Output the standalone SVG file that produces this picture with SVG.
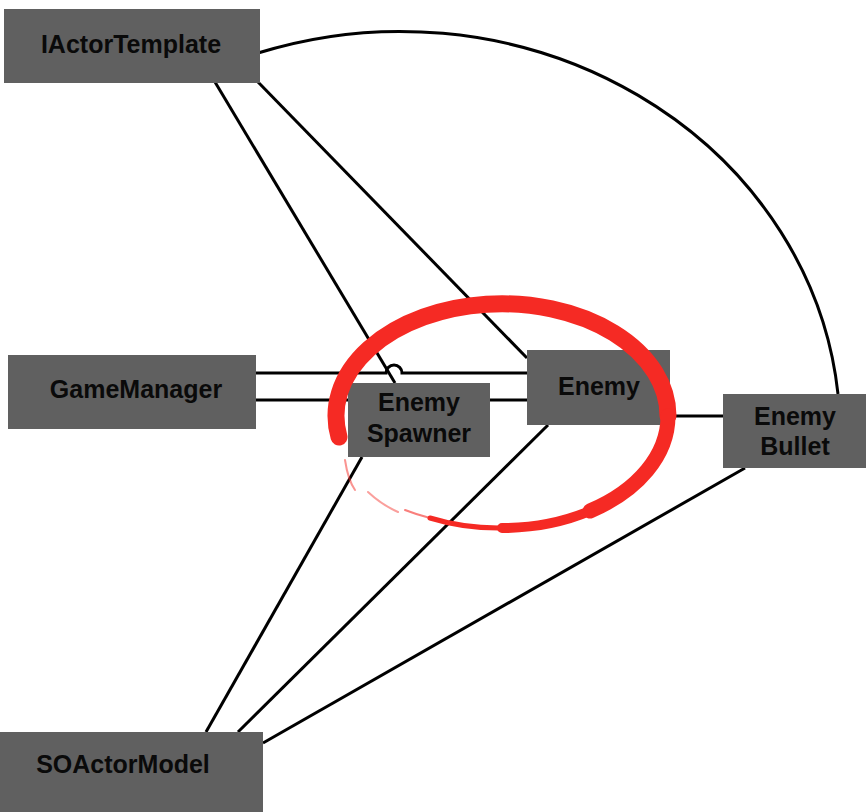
<svg xmlns="http://www.w3.org/2000/svg" width="868" height="812" viewBox="0 0 868 812">
<style>
.box{fill:#606060;}
.lbl{font-family:"Liberation Sans",Arial,sans-serif;font-weight:bold;font-size:25px;fill:#0a0a0a;text-anchor:middle;}
.edge{fill:none;stroke:#000;stroke-width:3;}
.red{fill:none;stroke:#f52a24;stroke-linecap:round;}
</style>
<rect width="868" height="812" fill="#fff"/>
<g id="connectors">
<path class="edge" d="M258,53 A440,402 0 0 1 838,394"/>
<line class="edge" x1="215" y1="82" x2="395" y2="383"/>
<line class="edge" x1="258" y1="82" x2="527" y2="358"/>
<path class="edge" d="M256,373 L386,373 A8,8 0 0 1 402,373 L527,373"/>
<line class="edge" x1="256" y1="400" x2="348" y2="400"/>
<line class="edge" x1="490" y1="400" x2="527" y2="400"/>
<line class="edge" x1="670" y1="416" x2="723" y2="416"/>
<line class="edge" x1="362" y1="457" x2="206" y2="732"/>
<line class="edge" x1="548" y1="425" x2="238" y2="732"/>
<line class="edge" x1="745" y1="468" x2="263" y2="743"/>
</g>
<g id="IActorTemplate"><rect class="box" x="4" y="9" width="256" height="74"/><text class="lbl" x="131" y="53">IActorTemplate</text></g>
<g id="GameManager"><rect class="box" x="8" y="355" width="248" height="74"/><text class="lbl" x="136" y="398">GameManager</text></g>
<g id="EnemySpawner"><rect class="box" x="348" y="383" width="142" height="74"/><text class="lbl" x="419" y="411">Enemy</text><text class="lbl" x="419" y="442">Spawner</text></g>
<g id="Enemy"><rect class="box" x="527" y="350" width="143" height="75"/><text class="lbl" x="599" y="395">Enemy</text></g>
<g id="EnemyBullet"><rect class="box" x="723" y="394" width="143" height="74"/><text class="lbl" x="795" y="425">Enemy</text><text class="lbl" x="795" y="455">Bullet</text></g>
<g id="SOActorModel"><rect class="box" x="0" y="732" width="263" height="80"/><text class="lbl" x="123" y="773">SOActorModel</text></g>
<g id="highlight">
<path class="red" stroke-width="17" d="M339,437 A166,112 0 1 1 668,416"/>
<path class="red" stroke-width="15" d="M668,416 A166,112 0 0 1 590,511"/>
<path class="red" stroke-width="10" d="M590,511 A166,112 0 0 1 502,528"/>
<path class="red" stroke-width="5" d="M502,528 A166,112 0 0 1 430,518"/>
<path class="red" stroke-width="2" opacity="0.6" d="M430,518 A166,112 0 0 1 405,510"/>
<path class="red" stroke-width="2" opacity="0.5" d="M345,460 Q348,480 355,490"/>
<path class="red" stroke-width="2" opacity="0.45" d="M368,492 Q382,505 398,512"/>
</g>
</svg>
